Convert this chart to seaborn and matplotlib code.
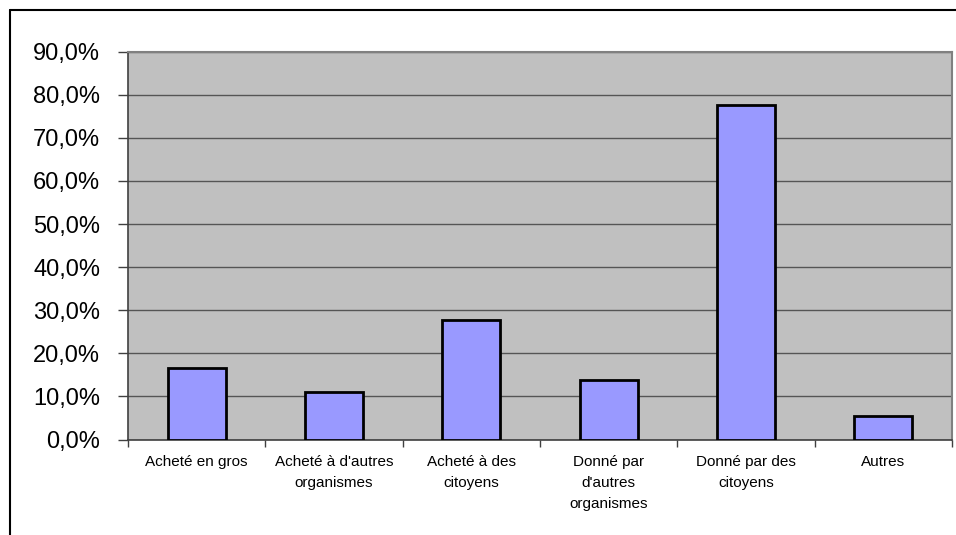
import numpy as np
import pandas as pd
import matplotlib
matplotlib.use("Agg")
import matplotlib.pyplot as plt
from matplotlib.lines import Line2D
from matplotlib.ticker import FixedLocator, FuncFormatter
import seaborn as sb

# Données
categories = ["Acheté en gros", "Acheté à d'autres\norganismes", "Acheté à des\ncitoyens",
              "Donné par\nd'autres\norganismes", "Donné par des\ncitoyens", "Autres"]
valeurs = [16.6, 11.1, 27.7, 13.8, 77.7, 5.4]
y_ticks = [0, 10, 20, 30, 40, 50, 60, 70, 80, 90]

df = pd.DataFrame({"cat": categories, "val": valeurs})

sb.set_style("white")
plt.rcParams["font.family"] = ["Liberation Sans", "DejaVu Sans"]

fig = plt.figure(figsize=(9.56, 5.35), dpi=100)
ax = fig.add_axes([128/956, 1 - 439.5/535, (952-128)/956, (439.5-51.7)/535])
ax.set_facecolor("#C0C0C0")

sb.barplot(data=df, x="cat", y="val", color="#9999FF", edgecolor="black",
           linewidth=2, width=0.42, saturation=1, ax=ax, zorder=3)

ax.set_ylim(0, 90)
ax.set_xlim(-0.5, len(categories) - 0.5)
ax.yaxis.set_major_locator(FixedLocator(y_ticks))
ax.yaxis.set_major_formatter(FuncFormatter(lambda v, p: f"{v:.1f}%".replace(".", ",")))
ax.grid(axis="y", color="#555555", linewidth=1, zorder=0)
ax.set_axisbelow(True)

ax.set_xlabel("")
ax.set_ylabel("")
ax.tick_params(axis="y", which="major", left=True, length=7, width=1, color="#404040",
               labelsize=17, pad=13)
ax.tick_params(axis="x", which="major", bottom=False, labelsize=11, pad=8)
ax.set_xticks(np.arange(len(categories) + 1) - 0.5, minor=True)
ax.tick_params(axis="x", which="minor", bottom=True, length=5, width=1, color="#404040")
for lab in ax.get_xticklabels():
    lab.set_linespacing(1.6)
    lab.set_color("black")
for lab in ax.get_yticklabels():
    lab.set_color("black")

for side in ["left", "bottom"]:
    ax.spines[side].set_color("#404040")
    ax.spines[side].set_linewidth(1.2)
for side in ["top", "right"]:
    ax.spines[side].set_color("#808080")
    ax.spines[side].set_linewidth(1.5)

# cadre du graphique
fig.add_artist(Line2D([10/956, 10/956], [0, 1 - 10/535], color="black", linewidth=1.5))
fig.add_artist(Line2D([10/956, 1], [1 - 10/535, 1 - 10/535], color="black", linewidth=1.5))

fig.savefig("out.png", dpi=100)
